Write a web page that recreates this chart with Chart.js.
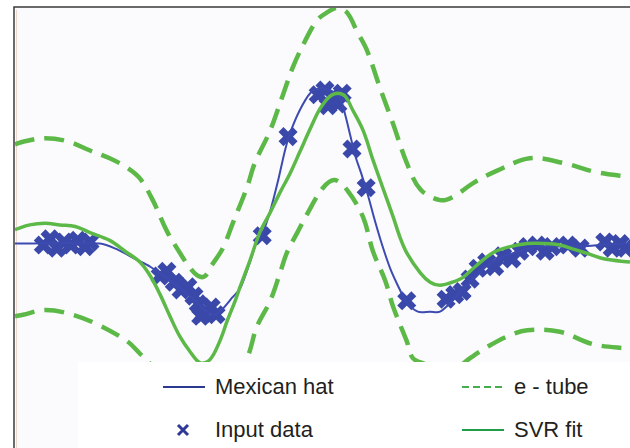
<!DOCTYPE html>
<html>
<head>
<meta charset="utf-8">
<script src="https://cdn.jsdelivr.net/npm/chart.js@4.4.1/dist/chart.umd.min.js"></script>
<style>
  html, body { margin: 0; padding: 0; background: #fff; overflow: hidden; }
  #wrap { position: relative; width: 630px; height: 448px; overflow: hidden; }
  #svr { display: block; }
  #legend { position: absolute; left: 78px; top: 362px; width: 552px; height: 86px; background: #fff;
            font-family: 'Liberation Sans', Arial, sans-serif; font-size: 22px; color: #231f20; }
  .item { position: absolute; height: 30px; line-height: 30px; white-space: nowrap; }
  .item svg { position: absolute; top: 8px; left: 0; }
  .item span { position: absolute; left: 52px; top: 0; }
</style>
</head>
<body>
<div id="wrap">
  <canvas id="svr" width="630" height="448"></canvas>
  <div id="legend"></div>
</div>
<script>
// Mexican hat (true function)
var hatX = [-5.00, -3.62, -3.33, -3.05, -2.80, -2.48, -2.15, -1.91, -1.75, -1.62, -1.47, -1.34, -1.18, -1.07,
            -0.98, -0.85, -0.72, -0.61, -0.53, -0.37, -0.20, -0.04, 0.12, 0.28, 0.37, 0.45, 0.53, 0.64, 0.74,
            0.85, 0.97, 1.10, 1.26, 1.37, 1.55, 1.75, 1.91, 2.11, 2.27, 2.48, 2.72, 2.97, 3.21, 3.54, 3.86,
            4.19, 4.51, 5.00];
var hatY = [0.00, 0.00, -0.04, -0.10, -0.15, -0.24, -0.34, -0.43, -0.46, -0.42, -0.35, -0.29, -0.12, 0.01,
            0.06, 0.21, 0.41, 0.60, 0.71, 0.86, 0.97, 1.00, 0.99, 0.94, 0.83, 0.70, 0.57, 0.44, 0.31,
            0.15, -0.01, -0.16, -0.30, -0.38, -0.44, -0.44, -0.44, -0.37, -0.30, -0.21, -0.13, -0.08, -0.05, -0.02, -0.02,
            -0.02, -0.01, 0.00];

// noisy samples
var inputX = [-4.54, -4.43, -4.32, -4.20, -4.09, -3.98, -3.86, -3.78,
              -2.64, -2.53, -2.41, -2.30, -2.19, -2.09,
              -2.02, -1.93, -1.81, -1.98, -1.73,
              -0.98, -0.56,
              -0.07, 0.04, 0.17, 0.25, 0.09, 0.32,
              0.48, 0.71, 1.37,
              2.01, 2.15, 2.27, 2.40, 2.53, 2.67, 2.80, 2.93, 3.08, 3.21, 3.34, 3.49, 3.62, 3.73,
              3.99, 4.19, 4.59, 4.71, 4.84, 4.93];
var inputY = [-0.01, 0.03, -0.03, 0.01, -0.01, 0.02, -0.02, 0.01,
              -0.21, -0.18, -0.25, -0.30, -0.28, -0.34,
              -0.39, -0.45, -0.41, -0.47, -0.46,
              0.05, 0.69,
              0.96, 0.99, 0.95, 0.90, 0.89, 0.97,
              0.61, 0.36, -0.37,
              -0.36, -0.33, -0.31, -0.23, -0.16, -0.12, -0.15, -0.08, -0.10, -0.05, -0.02, -0.01, -0.05, -0.02,
              -0.01, -0.03, 0.01, -0.03, 0.00, -0.03];

// SVR fit
var svrX = [-5.00, -4.76, -4.51, -4.27, -4.02, -3.78, -3.46, -3.21, -2.97, -2.80, -2.64, -2.48, -2.32, -2.15,
            -1.99, -1.83, -1.67, -1.55, -1.42, -1.34, -1.18, -1.02, -0.85, -0.69, -0.53, -0.37, -0.20, -0.04,
            0.12, 0.25, 0.37, 0.48, 0.66, 0.82, 0.98, 1.15, 1.26, 1.37, 1.59, 1.75, 1.91, 2.11, 2.28, 2.48,
            2.77, 3.05, 3.33, 3.62, 3.86, 4.11, 4.35, 4.59, 5.00];
var svrY = [0.09, 0.12, 0.13, 0.12, 0.11, 0.07, 0.02, -0.05, -0.12, -0.21, -0.33, -0.47, -0.60, -0.70,
            -0.77, -0.75, -0.63, -0.50, -0.37, -0.28, -0.11, 0.07, 0.20, 0.33, 0.45, 0.59, 0.74, 0.87,
            0.95, 0.97, 0.95, 0.87, 0.73, 0.54, 0.36, 0.17, 0.04, -0.06, -0.19, -0.25, -0.27, -0.25, -0.22, -0.15,
            -0.06, -0.02, 0.00, 0.00, -0.01, -0.04, -0.07, -0.10, -0.12];

// e-tube, upper edge
var tubeUpX = [-5.00, -4.84, -4.51, -4.15, -3.78, -3.46, -3.18, -2.97, -2.76, -2.53, -2.32, -2.15, -2.02, -1.91,
               -1.80, -1.62, -1.46, -1.23, -1.10, -0.85, -0.66, -0.48, -0.28, -0.09, 0.07, 0.24, 0.40, 0.56,
               0.72, 0.93, 1.15, 1.37, 1.59, 1.91, 2.12, 2.45, 2.84, 3.37, 3.91, 4.46, 5.00];
var tubeUpY = [0.64, 0.66, 0.68, 0.66, 0.60, 0.55, 0.49, 0.42, 0.28, 0.08, -0.06, -0.16, -0.21, -0.21,
               -0.14, -0.03, 0.13, 0.36, 0.52, 0.73, 0.94, 1.14, 1.31, 1.44, 1.49, 1.52, 1.49, 1.37,
               1.25, 1.01, 0.77, 0.52, 0.35, 0.28, 0.30, 0.39, 0.47, 0.55, 0.52, 0.46, 0.43];

// e-tube, lower edge
var tubeLoX = [-5.00, -4.87, -4.54, -4.15, -3.67, -3.18, -2.97, -2.80, -2.56, -2.32, -2.15, -1.99, -1.80, -1.59,
               -1.38, -1.18, -1.07, -0.85, -0.69, -0.58, -0.41, -0.25, 0.01, 0.20, 0.41, 0.66, 0.82, 1.02,
               1.15, 1.37, 1.47, 1.67, 1.91, 2.15, 2.40, 2.67, 3.00, 3.33, 3.86, 4.40, 5.00];
var tubeLoY = [-0.47, -0.46, -0.43, -0.45, -0.52, -0.63, -0.71, -0.78, -0.96, -1.15, -1.26, -1.31, -1.29, -1.13,
               -0.92, -0.69, -0.54, -0.37, -0.19, -0.06, 0.07, 0.19, 0.36, 0.41, 0.34, 0.17, -0.05, -0.24,
               -0.41, -0.63, -0.74, -0.78, -0.83, -0.81, -0.74, -0.67, -0.60, -0.56, -0.57, -0.65, -0.68];

var seriesNames = ['Mexican hat', 'e - tube', 'Input data', 'SVR fit'];

function pairs(xs, ys) {
    return xs.map(function (x, i) { return { x: x, y: ys[i] }; });
}

var plotGreen = '#5cb947';

// background + frame lines round the plot
var framePlugin = {
    id: 'frame',
    beforeDraw: function (chart) {
        var ctx = chart.ctx, a = chart.chartArea;
        ctx.save();
        ctx.fillStyle = '#fbfbfd';
        ctx.fillRect(a.left, a.top, a.right - a.left, a.bottom - a.top);
        ctx.strokeStyle = '#3a3a3a';
        ctx.lineWidth = 1.5;
        ctx.beginPath();
        ctx.moveTo(a.left - 1, chart.height);
        ctx.lineTo(a.left - 1, a.top - 1);
        ctx.lineTo(chart.width, a.top - 1);
        ctx.stroke();
        ctx.strokeStyle = '#ecd6cc';
        ctx.lineWidth = 1;
        ctx.beginPath();
        ctx.moveTo(a.left + 1.5, a.top + 2);
        ctx.lineTo(a.left + 1.5, chart.height);
        ctx.stroke();
        ctx.restore();
    }
};

var ctx = document.getElementById('svr');
var chart = new Chart(ctx, {
    type: 'scatter',
    data: {
        datasets: [{
            label: seriesNames[0],
            data: pairs(hatX, hatY),
            showLine: true,
            borderColor: '#3d4bb0',
            borderWidth: 2,
            pointRadius: 0,
            tension: 0.3,
            order: 2,
            legendColor: '#2b3990',
            legendKind: 'line'
        }, {
            label: seriesNames[1],
            data: pairs(tubeUpX, tubeUpY),
            showLine: true,
            borderColor: plotGreen,
            borderWidth: 4.5,
            borderDash: [20, 10],
            pointRadius: 0,
            tension: 0.35,
            order: 1,
            legendColor: '#45ad4d',
            legendKind: 'dash'
        }, {
            label: seriesNames[2],
            data: pairs(inputX, inputY),
            showLine: false,
            pointStyle: 'crossRot',
            pointRadius: 10,
            pointBorderWidth: 7,
            borderColor: '#3a49a9',
            backgroundColor: '#3a49a9',
            order: 3,
            legendColor: '#2e3a96',
            legendKind: 'cross'
        }, {
            label: seriesNames[3],
            data: pairs(svrX, svrY),
            showLine: true,
            borderColor: plotGreen,
            borderWidth: 3.5,
            pointRadius: 0,
            tension: 0.35,
            order: 0,
            legendColor: '#1f9d48',
            legendKind: 'line'
        }, {
            label: seriesNames[1] + ' (lower)',
            data: pairs(tubeLoX, tubeLoY),
            showLine: true,
            borderColor: plotGreen,
            borderWidth: 4.5,
            borderDash: [20, 10],
            pointRadius: 0,
            tension: 0.35,
            order: 1,
            legendKind: 'none'
        }]
    },
    options: {
        responsive: false,
        animation: false,
        layout: { autoPadding: false, padding: { left: 15, top: 8, right: 0, bottom: 0 } },
        scales: {
            x: { type: 'linear', min: -5, max: 5, display: false },
            y: { type: 'linear', min: -1.32, max: 1.52, display: false }
        },
        plugins: {
            legend: { display: false },
            tooltip: { enabled: false }
        }
    },
    plugins: [framePlugin]
});

// html legend laid out in two columns, built from the datasets
var slots = [{ left: 85, top: 10 }, { left: 384, top: 10 }, { left: 85, top: 53 }, { left: 384, top: 53 }];
var legendBox = document.getElementById('legend');
var n = 0;
chart.data.datasets.forEach(function (ds) {
    if (ds.legendKind === 'none') return;
    var s = slots[n++];
    var icon;
    if (ds.legendKind === 'cross') {
        icon = '<svg width="42" height="14"><path d="M15 2 L25 12 M25 2 L15 12" stroke="' + ds.legendColor +
               '" stroke-width="3"/></svg>';
    } else {
        var dash = ds.legendKind === 'dash' ? ' stroke-dasharray="7 4"' : '';
        icon = '<svg width="42" height="14"><line x1="0" y1="7" x2="42" y2="7" stroke="' + ds.legendColor +
               '" stroke-width="2.2"' + dash + '/></svg>';
    }
    var div = document.createElement('div');
    div.className = 'item';
    div.style.left = s.left + 'px';
    div.style.top = s.top + 'px';
    div.innerHTML = icon + '<span>' + ds.label + '</span>';
    legendBox.appendChild(div);
});
</script>
</body>
</html>
